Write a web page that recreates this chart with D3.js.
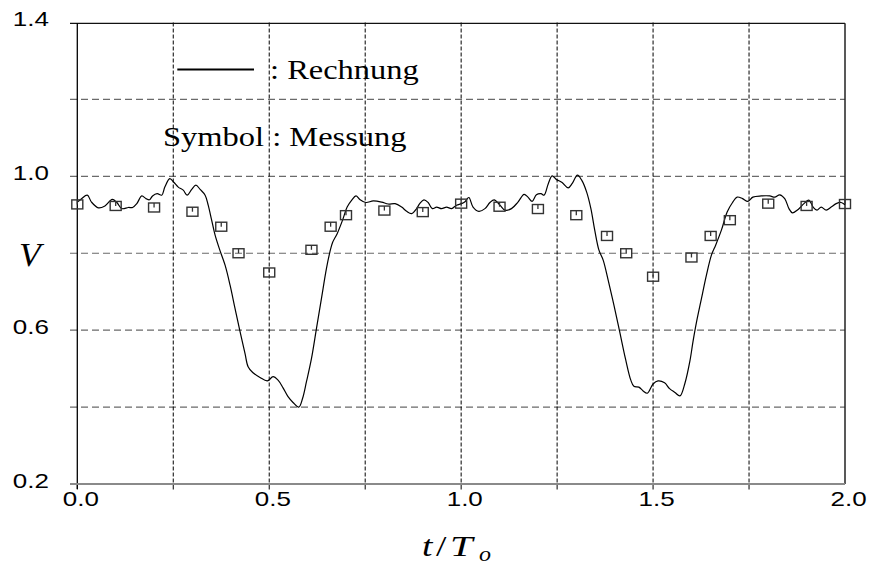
<!DOCTYPE html>
<html>
<head>
<meta charset="utf-8">
<script src="https://cdn.jsdelivr.net/npm/d3@7"></script>
<style>
  html, body { margin: 0; padding: 0; background: #fff; }
  svg { display: block; }
</style>
</head>
<body>
<svg id="chart" width="872" height="572"></svg>
<script>
// Axis ticks and grid
const xTickVals = [0.0, 0.5, 1.0, 1.5, 2.0];
const xTickLabels = ["0.0", "0.5", "1.0", "1.5", "2.0"];
const xGridVals = [0.25, 0.5, 0.75, 1.0, 1.25, 1.5, 1.75];
const yTickVals = [0.2, 0.6, 1.0, 1.4];
const yTickLabels = ["0.2", "0.6", "1.0", "1.4"];
const yGridVals = [0.4, 0.6, 0.8, 1.0, 1.2];

// Computed curve (Rechnung)
const calcT = [
  0.000, 0.011, 0.026, 0.037, 0.055, 0.072, 0.091, 0.103, 0.116, 0.133,
  0.144, 0.155, 0.168, 0.179, 0.188, 0.196, 0.208, 0.220, 0.228, 0.241,
  0.252, 0.263, 0.276, 0.286, 0.298, 0.309, 0.320, 0.333, 0.341, 0.350,
  0.359, 0.370, 0.385, 0.398, 0.411, 0.424, 0.437, 0.445, 0.457, 0.476,
  0.495, 0.510, 0.523, 0.536, 0.549, 0.562, 0.577, 0.587, 0.597, 0.610,
  0.623, 0.636, 0.649, 0.658, 0.665, 0.677, 0.691, 0.703, 0.715, 0.726,
  0.736, 0.752, 0.771, 0.793, 0.810, 0.828, 0.845, 0.858, 0.871, 0.884,
  0.892, 0.903, 0.914, 0.925, 0.936, 0.949, 0.962, 0.975, 0.988, 1.001,
  1.010, 1.020, 1.031, 1.046, 1.062, 1.075, 1.086, 1.101, 1.114, 1.131,
  1.148, 1.164, 1.174, 1.185, 1.196, 1.208, 1.216, 1.227, 1.237, 1.248,
  1.263, 1.279, 1.289, 1.303, 1.314, 1.327, 1.338, 1.348, 1.359, 1.370,
  1.383, 1.398, 1.413, 1.428, 1.442, 1.450, 1.463, 1.474, 1.485, 1.500,
  1.513, 1.530, 1.543, 1.557, 1.570, 1.583, 1.596, 1.604, 1.613, 1.626,
  1.639, 1.652, 1.663, 1.678, 1.693, 1.707, 1.719, 1.733, 1.747, 1.760,
  1.782, 1.804, 1.817, 1.830, 1.843, 1.854, 1.863, 1.878, 1.893, 1.906,
  1.917, 1.927, 1.938, 1.951, 1.964, 1.977, 1.990, 2.000
];
const calcV = [
  0.933, 0.942, 0.951, 0.933, 0.918, 0.923, 0.940, 0.932, 0.916, 0.919,
  0.919, 0.929, 0.949, 0.942, 0.939, 0.949, 0.955, 0.951, 0.972, 0.994,
  0.984, 0.972, 0.964, 0.951, 0.966, 0.977, 0.966, 0.951, 0.925, 0.886,
  0.847, 0.812, 0.769, 0.717, 0.656, 0.596, 0.539, 0.505, 0.490, 0.477,
  0.468, 0.479, 0.470, 0.450, 0.427, 0.412, 0.400, 0.423, 0.466, 0.526,
  0.604, 0.682, 0.760, 0.803, 0.828, 0.851, 0.886, 0.920, 0.938, 0.949,
  0.940, 0.932, 0.936, 0.933, 0.928, 0.929, 0.920, 0.909, 0.903, 0.916,
  0.929, 0.939, 0.932, 0.916, 0.920, 0.916, 0.920, 0.916, 0.925, 0.929,
  0.934, 0.945, 0.920, 0.909, 0.916, 0.932, 0.939, 0.925, 0.912, 0.916,
  0.933, 0.953, 0.946, 0.935, 0.952, 0.955, 0.951, 0.981, 1.001, 0.992,
  0.984, 0.970, 0.981, 1.003, 0.990, 0.959, 0.916, 0.860, 0.808, 0.782,
  0.730, 0.665, 0.596, 0.526, 0.470, 0.454, 0.452, 0.442, 0.436, 0.460,
  0.468, 0.463, 0.448, 0.438, 0.429, 0.462, 0.520, 0.570, 0.620, 0.682,
  0.743, 0.795, 0.821, 0.860, 0.907, 0.932, 0.946, 0.942, 0.935, 0.946,
  0.949, 0.949, 0.946, 0.952, 0.942, 0.916, 0.905, 0.914, 0.929, 0.938,
  0.920, 0.912, 0.920, 0.912, 0.920, 0.929, 0.932, 0.926
];

// Measured points (Messung)
const measT = [0.0, 0.1, 0.2, 0.3, 0.375, 0.42, 0.5, 0.61, 0.66, 0.7, 0.8, 0.9,
               1.0, 1.1, 1.2, 1.3, 1.38, 1.43, 1.5, 1.6, 1.65, 1.7, 1.8, 1.9, 2.0];
const measV = [0.927, 0.923, 0.919, 0.908, 0.869, 0.800, 0.750, 0.809, 0.869, 0.899, 0.911, 0.907,
               0.929, 0.921, 0.915, 0.899, 0.845, 0.800, 0.739, 0.789, 0.845, 0.886, 0.929, 0.923, 0.928];

const svg = d3.select("#chart");
const plot = { left: 77.3, right: 845, top: 22.5, bottom: 484 };

const x = d3.scaleLinear().domain([0, 2]).range([plot.left, plot.right]);
const y = d3.scaleLinear().domain([0.2, 1.4]).range([plot.bottom, plot.top]);

const tickFont = "'Liberation Sans', Arial, sans-serif";
const serif = "'Liberation Serif', 'Times New Roman', serif";

// Horizontal dashed grid (gray, long dashes), starting left of the axis as tick marks
svg.append("g").selectAll("line").data(yGridVals).join("line")
  .attr("x1", 70).attr("x2", plot.right)
  .attr("y1", d => y(d)).attr("y2", d => y(d))
  .attr("stroke", "#6a6a6a").attr("stroke-width", 1.2)
  .attr("stroke-dasharray", "7,4");

// Vertical dashed grid (black, short dashes)
svg.append("g").selectAll("line").data(xGridVals).join("line")
  .attr("x1", d => x(d)).attr("x2", d => x(d))
  .attr("y1", plot.top).attr("y2", plot.bottom)
  .attr("stroke", "#000").attr("stroke-width", 1)
  .attr("stroke-dasharray", "4,2");

// Tick marks below the x axis
svg.append("g").selectAll("line").data([0].concat(xGridVals)).join("line")
  .attr("x1", d => x(d)).attr("x2", d => x(d))
  .attr("y1", plot.bottom).attr("y2", plot.bottom + 5.5)
  .attr("stroke", "#000").attr("stroke-width", 1);

// Frame: top and right borders, left axis, bottom axis
svg.append("line").attr("x1", 70).attr("x2", plot.right)
  .attr("y1", plot.top + 0.8).attr("y2", plot.top + 0.8)
  .attr("stroke", "#111").attr("stroke-width", 1.3);
svg.append("line").attr("x1", plot.right).attr("x2", plot.right)
  .attr("y1", plot.top + 0.8).attr("y2", plot.bottom)
  .attr("stroke", "#222").attr("stroke-width", 1.5);
svg.append("line").attr("x1", plot.left).attr("x2", plot.left)
  .attr("y1", plot.top + 0.8).attr("y2", plot.bottom + 5)
  .attr("stroke", "#000").attr("stroke-width", 1.3);
svg.append("line").attr("x1", 70).attr("x2", plot.right)
  .attr("y1", plot.bottom).attr("y2", plot.bottom)
  .attr("stroke", "#8a8a8a").attr("stroke-width", 2);

// Tick labels (wide sans)
svg.append("g").selectAll("text").data(yTickVals).join("text")
  .attr("transform", d => `translate(49,${y(d) + 3.8}) scale(1.3,1)`)
  .attr("text-anchor", "end")
  .attr("font-family", tickFont).attr("font-size", 20)
  .text((d, i) => yTickLabels[i]);

svg.append("g").selectAll("text").data(xTickVals).join("text")
  .attr("transform", d => `translate(${x(d) + 3.6},${plot.bottom + 21.5}) scale(1.3,1)`)
  .attr("text-anchor", "middle")
  .attr("font-family", tickFont).attr("font-size", 20)
  .text((d, i) => xTickLabels[i]);

// Axis titles
svg.append("text")
  .attr("transform", "translate(19,266) scale(1.08,1)")
  .attr("font-family", serif).attr("font-style", "italic").attr("font-size", 33)
  .text("V");

// t / T_o, set piece by piece like math type
const xTitle = svg.append("g").attr("font-family", serif).attr("font-style", "italic");
xTitle.append("text").attr("transform", "translate(422,556) scale(1.25,1)")
  .attr("font-size", 30).text("t");
xTitle.append("text").attr("transform", "translate(436,556) scale(1.25,1)")
  .attr("font-size", 30).attr("font-style", "normal").text("/");
xTitle.append("text").attr("transform", "translate(450,556) scale(1.35,1)")
  .attr("font-size", 30).text("T");
xTitle.append("text").attr("transform", "translate(479,561) scale(1.2,1)")
  .attr("font-size", 20).text("o");

// Computed curve
const calcData = calcT.map((t, i) => [t, calcV[i]]);
svg.append("path")
  .datum(calcData)
  .attr("fill", "none").attr("stroke", "#000").attr("stroke-width", 1.2)
  .attr("stroke-linejoin", "round")
  .attr("d", d3.line().x(d => x(d[0])).y(d => y(d[1])).curve(d3.curveCatmullRom.alpha(0.5)));

// Measured points: open square with a short tick down from the top edge
const sw = 11, sh = 9;
const meas = svg.append("g").selectAll("g").data(measT.map((t, i) => [t, measV[i]])).join("g")
  .attr("transform", d => `translate(${x(d[0])},${y(d[1])})`);
meas.append("rect")
  .attr("x", -sw / 2).attr("y", -sh / 2).attr("width", sw).attr("height", sh)
  .attr("fill", "none").attr("stroke", "#333").attr("stroke-width", 1.4);
meas.append("line")
  .attr("x1", 0).attr("x2", 0).attr("y1", -sh / 2).attr("y2", 0)
  .attr("stroke", "#333").attr("stroke-width", 1.3);

// Legend
svg.append("line")
  .attr("x1", 177.3).attr("x2", 254).attr("y1", 69.5).attr("y2", 69.5)
  .attr("stroke", "#000").attr("stroke-width", 2);
svg.append("text")
  .attr("transform", "translate(270,78.5) scale(1.16,1)")
  .attr("font-family", serif).attr("font-size", 28)
  .text(": Rechnung");
svg.append("text")
  .attr("transform", "translate(163,145.5) scale(1.16,1)")
  .attr("font-family", serif).attr("font-size", 28)
  .text("Symbol : Messung");
</script>
</body>
</html>
